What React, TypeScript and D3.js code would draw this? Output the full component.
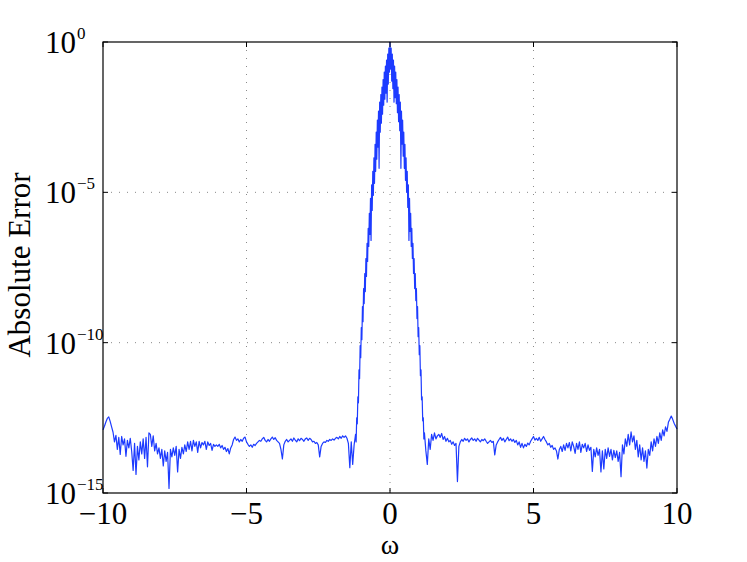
import React from 'react';
import * as d3 from 'd3';

const W = 747;
const H = 562;

// x-axis ticks
const xTicks = [-10, -5, 0, 5, 10];
const xTickLabels = ['\u221210', '\u22125', '0', '5', '10'];
// y-axis decade ticks (exponents of 10)
const yTickExponents = [0, -5, -10, -15];
const yTickExpLabels = ['0', '\u22125', '\u221210', '\u221215'];
const gridX = [-5, 0, 5];
const gridYExponents = [-5, -10];

// Absolute error, stored as log10 values
// Left tail: omega = -10.00 ... -1.25, step 0.05
const leftTailStart = -10;
const tailStep = 0.05;
const leftTailLog10 = [
  -12.90, -12.78, -12.64, -12.52, -12.47, -12.62, -12.80, -12.98, -13.30, -13.08,
  -13.55, -13.15, -13.72, -13.12, -13.40, -13.20, -13.78, -13.25, -13.50, -13.18,
  -13.62, -14.25, -13.35, -14.38, -13.45, -13.90, -13.30, -13.70, -13.20, -13.85,
  -13.15, -14.13, -13.00, -13.05, -13.45, -13.10, -13.60, -13.35, -13.70, -13.50,
  -13.85, -13.55, -14.10, -13.60, -13.95, -13.65, -14.85, -13.55, -13.80, -13.50,
  -13.75, -13.45, -14.30, -13.55, -13.85, -13.48, -13.70, -13.40, -13.62, -13.30,
  -13.55, -13.28, -13.60, -13.25, -13.45, -13.30, -13.65, -13.28, -13.50, -13.32,
  -13.40, -13.28, -13.55, -13.30, -13.42, -13.35, -13.58, -13.38, -13.45, -13.40,
  -13.45, -13.38, -13.50, -13.42, -13.55, -13.48, -13.62, -13.52, -13.70, -13.50,
  -13.40, -13.22, -13.14, -13.25, -13.20, -13.30, -13.22, -13.28, -13.18, -13.14,
  -13.30, -13.38, -13.45, -13.40, -13.48, -13.38, -13.42, -13.35, -13.30, -13.25,
  -13.28, -13.20, -13.15, -13.25, -13.30, -13.22, -13.28, -13.20, -13.14, -13.22,
  -13.16, -13.25, -13.30, -13.35, -13.55, -13.87, -13.40, -13.28, -13.22, -13.30,
  -13.25, -13.20, -13.28, -13.17, -13.24, -13.30, -13.20, -13.26, -13.18, -13.22,
  -13.28, -13.20, -13.17, -13.25, -13.18, -13.22, -13.30, -13.28, -13.35, -13.32,
  -13.40, -13.80, -13.45, -13.35, -13.30, -13.32, -13.25, -13.28, -13.22, -13.25,
  -13.20, -13.24, -13.18, -13.15, -13.20, -13.12, -13.18, -13.10, -13.15, -13.10,
  -13.18, -13.35, -14.16, -13.30, -14.05, -13.40,
];

// Central peak: omega = -1.20 ... 1.20, step 0.02
const peakStart = -1.2;
const peakStep = 0.02;
const peakLog10 = [
  -13.05, -13.30, -12.50, -12.70, -11.80, -12.00, -10.90, -11.20, -10.10, -10.50,
  -9.50, -9.90, -8.80, -9.30, -8.20, -8.70, -7.70, -8.30, -7.20, -7.80,
  -6.70, -7.30, -6.20, -6.80, -5.70, -6.40, -5.20, -6.60, -4.75, -5.60,
  -4.30, -5.10, -3.85, -4.70, -3.40, -4.30, -3.00, -3.90, -2.60, -3.50,
  -2.30, -4.20, -2.00, -3.00, -1.75, -2.70, -1.50, -2.40, -1.25, -2.10,
  -1.00, -1.90, -0.80, -1.70, -0.60, -2.00, -0.40, -1.40, -0.20, -1.00,
  0.00,
  -0.90, -0.20, -1.30, -0.40, -1.55, -0.60, -2.00, -0.80, -1.85, -1.00,
  -2.05, -1.25, -2.35, -1.50, -2.65, -1.75, -2.95, -2.00, -4.20, -2.30,
  -3.40, -2.60, -3.80, -3.00, -4.20, -3.40, -4.60, -3.85, -5.00, -4.30,
  -5.50, -4.75, -6.60, -5.20, -6.30, -5.70, -6.80, -6.20, -7.20, -6.70,
  -7.70, -7.20, -8.20, -7.70, -8.60, -8.20, -9.20, -8.80, -9.80, -9.50,
  -10.40, -10.10, -11.10, -10.90, -11.90, -11.80, -12.60, -12.50, -13.20, -13.00,
];

// Right tail: omega = 1.25 ... 10.00, step 0.05
const rightTailStart = 1.25;
const rightTailLog10 = [
  -13.60, -14.05, -13.20, -13.55, -13.05, -13.25, -13.00, -13.20, -13.10, -13.05,
  -13.15, -13.02, -13.22, -13.12, -13.28, -13.18, -13.30, -13.25, -13.38, -13.30,
  -13.42, -13.35, -14.62, -13.45, -13.30, -13.22, -13.28, -13.18, -13.25, -13.20,
  -13.30, -13.22, -13.17, -13.25, -13.20, -13.28, -13.18, -13.24, -13.30, -13.22,
  -13.26, -13.20, -13.28, -13.35, -13.30, -13.25, -13.32, -13.28, -13.73, -13.40,
  -13.30, -13.22, -13.15, -13.25, -13.18, -13.30, -13.22, -13.14, -13.26, -13.20,
  -13.28, -13.22, -13.32, -13.25, -13.40, -13.30, -13.48, -13.35, -13.50, -13.38,
  -13.45, -13.34, -13.40, -13.28, -13.20, -13.12, -13.24, -13.18, -13.25, -13.15,
  -13.28, -13.20, -13.12, -13.22, -13.30, -13.40, -13.35, -13.48, -13.42, -13.55,
  -13.50, -13.60, -13.87, -13.55, -13.45, -13.62, -13.40, -13.58, -13.35, -13.50,
  -13.32, -13.60, -13.30, -13.45, -13.68, -13.35, -13.55, -13.30, -13.65, -13.38,
  -13.50, -13.35, -13.62, -13.40, -13.58, -13.48, -14.28, -13.55, -13.80, -13.50,
  -13.75, -13.55, -14.30, -13.60, -14.20, -13.55, -13.85, -13.50, -13.78, -13.55,
  -13.90, -13.58, -13.82, -13.60, -13.95, -13.65, -14.46, -13.40, -13.70, -13.20,
  -13.45, -13.05, -13.40, -12.97, -13.30, -13.10, -13.55, -13.25, -13.80, -13.40,
  -13.90, -13.50, -13.95, -13.60, -14.17, -13.55, -13.75, -13.30, -13.60, -13.20,
  -13.45, -13.12, -13.35, -13.00, -13.25, -12.90, -13.10, -12.80, -12.95, -12.65,
  -12.55, -12.44, -12.55, -12.68, -12.78, -12.87,
];

const FONT = '"Liberation Serif", "Times New Roman", Times, serif';

type Pt = { w: number; e: number };

export default function App() {
  const left = 103;
  const right = 677;
  const top = 42;
  const bottom = 493;

  const x = d3.scaleLinear().domain([-10, 10]).range([left, right]);
  const y = d3.scaleLog().domain([1e-15, 1]).range([bottom, top]);

  const pts: Pt[] = [
    ...leftTailLog10.map((v, i) => ({ w: leftTailStart + i * tailStep, e: Math.pow(10, v) })),
    ...peakLog10.map((v, i) => ({ w: peakStart + i * peakStep, e: Math.pow(10, v) })),
    ...rightTailLog10.map((v, i) => ({ w: rightTailStart + i * tailStep, e: Math.pow(10, v) })),
  ];

  const line = d3
    .line<Pt>()
    .x((d) => x(d.w))
    .y((d) => y(d.e));

  const tickLen = 5;
  const fs = 31;
  const supFs = 17;

  return (
    <svg
      width={W}
      height={H}
      style={{ position: 'absolute', left: 0, top: 0, background: '#fff' }}
    >
      <rect x={0} y={0} width={W} height={H} fill="#fff" />
      {/* grid */}
      {gridX.map((g) => (
        <line
          key={'gx' + g}
          x1={x(g)}
          x2={x(g)}
          y1={top}
          y2={bottom}
          stroke="#8a8a8a"
          strokeWidth={1}
          strokeDasharray="1,7"
        />
      ))}
      {gridYExponents.map((g) => (
        <line
          key={'gy' + g}
          x1={left}
          x2={right}
          y1={y(Math.pow(10, g))}
          y2={y(Math.pow(10, g))}
          stroke="#8a8a8a"
          strokeWidth={1}
          strokeDasharray="1,7"
        />
      ))}
      {/* data */}
      <path d={line(pts) || ''} fill="none" stroke="#1d3bff" strokeWidth={1.2} strokeLinejoin="round" />
      {/* ticks */}
      {xTicks.map((t) => (
        <g key={'xt' + t}>
          <line x1={x(t)} x2={x(t)} y1={bottom} y2={bottom - tickLen} stroke="#000" />
          <line x1={x(t)} x2={x(t)} y1={top} y2={top + tickLen} stroke="#000" />
        </g>
      ))}
      {yTickExponents.map((t) => (
        <g key={'yt' + t}>
          <line x1={left} x2={left + tickLen} y1={y(Math.pow(10, t))} y2={y(Math.pow(10, t))} stroke="#000" />
          <line x1={right} x2={right - tickLen} y1={y(Math.pow(10, t))} y2={y(Math.pow(10, t))} stroke="#000" />
        </g>
      ))}
      {/* box */}
      <rect
        x={left}
        y={top}
        width={right - left}
        height={bottom - top}
        fill="none"
        stroke="#000"
        strokeWidth={1.2}
      />
      {/* x tick labels */}
      {xTicks.map((t, i) => (
        <text
          key={'xl' + t}
          x={x(t)}
          y={bottom + 31}
          textAnchor="middle"
          fontFamily={FONT}
          fontSize={fs}
          fill="#000"
        >
          {xTickLabels[i]}
        </text>
      ))}
      {/* y tick labels */}
      {yTickExponents.map((t, i) => (
        <g key={'yl' + t}>
          <text
            x={76}
            y={y(Math.pow(10, t)) + 11}
            textAnchor="end"
            fontFamily={FONT}
            fontSize={fs}
            fill="#000"
          >
            10
          </text>
          <text
            x={77}
            y={y(Math.pow(10, t)) - 3}
            textAnchor="start"
            fontFamily={FONT}
            fontSize={supFs}
            fill="#000"
          >
            {yTickExpLabels[i]}
          </text>
        </g>
      ))}
      {/* axis labels */}
      <text x={390} y={554} textAnchor="middle" fontFamily={FONT} fontSize={28} fill="#000">
        ω
      </text>
      <text
        transform={`translate(30, ${265}) rotate(-90)`}
        textAnchor="middle"
        fontFamily={FONT}
        fontSize={fs}
        fill="#000"
      >
        Absolute Error
      </text>
    </svg>
  );
}
